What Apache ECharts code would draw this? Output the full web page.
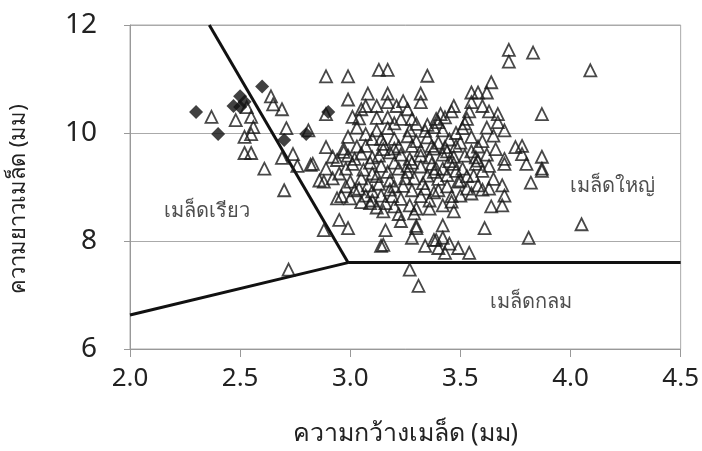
<!DOCTYPE html>
<html>
<head>
<meta charset="utf-8">
<script src="https://cdn.jsdelivr.net/npm/echarts@6/dist/echarts.min.js"></script>
<style>
  html, body { margin: 0; padding: 0; background: #fff; }
  #chart { width: 702px; height: 451px; }
</style>
</head>
<body>
<div id="chart"></div>
<script>
// ค่าความกว้าง/ความยาวเมล็ด (มม) อ่านจากภาพ
const slenderSeeds = [
  [2.30, 10.39], [2.40, 9.98], [2.50, 10.68], [2.47, 10.50], [2.50, 10.48],
  [2.52, 10.58], [2.60, 10.86], [2.70, 9.87], [2.80, 9.98], [2.90, 10.39]
]

const otherSeeds = [
  // ด้านซ้าย
  [2.37, 10.30], [2.48, 10.24], [2.55, 10.30], [2.56, 10.11], [2.52, 9.93], [2.55, 9.98],
  [2.52, 9.63], [2.55, 9.63], [2.53, 10.48], [2.64, 10.68], [2.65, 10.53], [2.69, 10.44],
  [2.71, 10.09], [2.69, 9.54], [2.74, 9.61], [2.76, 9.39], [2.82, 9.41], [2.61, 9.34],
  [2.70, 8.94], [2.86, 9.12], [2.81, 10.05], [2.72, 7.47], [2.88, 8.20], [2.95, 8.39],
  [2.99, 8.24], [2.83, 9.43], [2.89, 9.74], [2.97, 9.65],
  // ด้านบน
  [2.89, 11.05], [2.99, 11.05], [3.13, 11.17], [3.17, 11.17], [3.35, 11.06], [3.08, 10.73],
  [3.17, 10.73], [3.32, 10.73], [2.99, 10.62], [2.89, 10.35], [3.05, 10.44], [3.04, 10.27],
  [3.12, 10.50], [3.17, 10.57], [3.21, 10.50], [3.24, 10.59], [3.26, 10.44], [3.32, 10.57],
  [3.17, 10.29], [3.23, 10.26], [3.28, 10.26], [3.30, 10.17], [3.39, 10.26], [3.17, 10.09],
  [3.34, 10.04], [2.99, 9.93], [3.07, 9.98], [2.97, 9.71], [3.07, 9.76], [3.10, 9.89],
  [3.14, 9.89], [3.20, 9.89], [3.26, 9.94], [3.20, 9.71], [3.28, 9.76], [3.37, 9.76],
  [2.92, 9.56], [3.02, 9.52], [3.13, 9.58], [3.32, 9.58],
  [3.72, 11.54], [3.72, 11.32], [3.83, 11.49], [3.64, 10.94], [3.55, 10.75], [3.58, 10.75],
  [3.62, 10.75], [3.55, 10.57], [3.60, 10.50], [3.47, 10.50], [3.41, 10.35], [3.46, 10.40],
  [3.54, 10.40], [3.63, 10.40], [3.67, 10.35], [3.67, 10.20], [3.53, 10.26], [3.40, 10.20],
  [3.43, 10.29], [3.51, 10.09], [3.38, 10.11], [3.55, 9.93], [3.87, 10.35], [3.43, 9.74],
  [3.48, 9.76], [3.75, 9.74], [3.78, 9.76], [3.78, 9.61], [3.87, 9.56], [3.38, 9.71],
  [3.47, 9.56], [3.58, 9.49], [3.70, 9.52],
  // ด้านขวา
  [4.09, 11.16], [4.05, 8.31], [3.87, 9.30], [3.82, 9.08], [3.81, 8.06], [3.70, 9.43],
  [3.69, 9.03], [3.70, 8.84], [3.80, 9.43], [3.87, 9.34], [3.69, 8.66], [3.64, 8.64],
  [3.63, 8.97], [3.61, 8.24], [3.63, 9.39], [3.57, 9.43],
  // ด้านล่าง
  [3.42, 8.66], [3.47, 8.55], [3.46, 8.73], [3.42, 8.29], [3.39, 8.02], [3.42, 8.06],
  [3.43, 7.78], [3.49, 7.87], [3.54, 7.78], [3.40, 7.87], [3.16, 8.20], [3.14, 7.91],
  [3.27, 7.47], [3.31, 7.17], [3.29, 8.51], [3.30, 8.24], [3.28, 8.06], [3.34, 7.91],
  [3.38, 8.02], [3.23, 8.37], [3.15, 7.93], [3.30, 8.28], [3.45, 7.95],
  // กลุ่มหนาแน่น
  [3.38, 9.28], [3.42, 9.34], [3.47, 9.43], [3.51, 9.34], [3.56, 9.21], [3.40, 8.94],
  [3.44, 9.01], [3.49, 9.10], [3.53, 8.97], [3.58, 9.03], [3.50, 8.84], [3.55, 8.88],
  [3.46, 8.83],
  [2.88, 9.10], [2.92, 9.16], [2.95, 9.25], [2.89, 9.34], [3.01, 9.43], [2.96, 8.83],
  [2.94, 8.79], [2.98, 9.01], [3.02, 8.94], [3.00, 8.79], [3.05, 9.16], [3.04, 8.97],
  [3.07, 8.84], [3.09, 8.70], [3.08, 9.03], [3.13, 9.06], [3.14, 8.84], [3.16, 8.70],
  [3.15, 8.55], [3.20, 8.64], [3.19, 8.83], [3.20, 9.01], [3.28, 8.94], [3.32, 8.83],
  [3.34, 8.97], [3.25, 9.16], [3.29, 9.16], [3.35, 9.21], [3.10, 9.25], [3.17, 9.28],
  [3.22, 9.34], [2.98, 9.34], [3.14, 9.39], [3.26, 9.39], [3.32, 9.38], [3.39, 9.34],
  [3.05, 9.62], [3.10, 9.55], [3.18, 9.64], [3.23, 9.60], [3.27, 9.52], [3.36, 9.55],
  [3.42, 9.60], [3.45, 9.48], [3.52, 9.58], [3.55, 9.66], [3.62, 9.60], [3.66, 9.70],
  [3.60, 9.30], [3.65, 9.15], [3.53, 9.20], [3.40, 9.15], [3.33, 9.07], [3.24, 9.02],
  [3.18, 9.12], [3.12, 9.20], [3.06, 9.32], [3.00, 9.10], [2.94, 9.50], [3.03, 9.75],
  [3.15, 9.80], [3.22, 9.75], [3.30, 9.85], [3.35, 9.92], [3.45, 9.88], [3.50, 9.82],
  [3.60, 9.85], [3.65, 9.95], [3.70, 10.05], [3.62, 10.10], [3.48, 10.00], [3.42, 10.05],
  [3.27, 10.05], [3.12, 10.05], [3.03, 10.10], [3.10, 8.92], [3.23, 8.78], [3.27, 8.66],
  [3.36, 8.75], [3.38, 8.90], [3.30, 8.60], [3.12, 8.62], [3.05, 8.72], [3.18, 8.95],
  [3.26, 9.28], [3.44, 9.22], [3.48, 9.30], [3.57, 9.55], [3.37, 9.43], [3.20, 9.45],
  [3.09, 9.45], [2.99, 9.58], [3.15, 9.70], [3.32, 9.68], [3.40, 9.82], [3.58, 9.75],
  [3.50, 9.12], [3.60, 8.95], [3.36, 8.60], [3.22, 8.50], [3.10, 8.75], [3.28, 9.45],
  [3.44, 9.66], [3.52, 10.18], [3.35, 10.15], [3.20, 10.18], [3.12, 10.28], [3.07, 10.50],
  [3.01, 10.30]
]

// เส้นแบ่งกลุ่ม
const boundarySlender = [[2.36, 12.0], [2.99, 7.6]]
const boundaryRound = [[2.0, 6.63], [2.99, 7.6]]
const boundaryLarge = [[2.99, 7.6], [4.5, 7.6]]

const regionLabels = [
  { name: 'เมล็ดเรียว', value: [2.35, 8.55] },
  { name: 'เมล็ดใหญ่', value: [4.19, 9.01] },
  { name: 'เมล็ดกลม', value: [3.82, 6.86] }
]

const xTicks = { min: 2.0, max: 4.5, interval: 0.5 }
const yTicks = { min: 6, max: 12, interval: 2 }

const chart = echarts.init(document.getElementById('chart'))

const lineStyleBlack = { color: '#111', width: 3 }
const boundary = (data) => ({
  type: 'line',
  data: data,
  symbol: 'none',
  lineStyle: lineStyleBlack,
  silent: true,
  z: 3
})

const option = {
  animation: false,
  textStyle: { fontFamily: '"Noto Sans", "Open Sans", sans-serif' },
  grid: {
    left: 125,
    right: 19,
    top: 25,
    bottom: 98,
    show: true,
    borderColor: '#aaa',
    borderWidth: 1
  },
  xAxis: {
    type: 'value',
    min: xTicks.min,
    max: xTicks.max,
    interval: xTicks.interval,
    name: 'ความกว้างเมล็ด (มม)',
    nameLocation: 'middle',
    nameGap: 72,
    nameTextStyle: { fontSize: 25, color: '#222' },
    axisLine: { lineStyle: { color: '#999' } },
    axisTick: { show: true, length: 8, lineStyle: { color: '#999' } },
    axisLabel: {
      fontSize: 26,
      color: '#222',
      margin: 17,
      formatter: (v) => v.toFixed(1)
    },
    splitLine: { show: false }
  },
  yAxis: {
    type: 'value',
    min: yTicks.min,
    max: yTicks.max,
    interval: yTicks.interval,
    name: 'ความยาวเมล็ด (มม)',
    nameLocation: 'middle',
    nameGap: 100,
    nameTextStyle: { fontSize: 22, color: '#222', padding: [0, 24, 0, 0] },
    axisLine: { show: true, lineStyle: { color: '#999' } },
    axisTick: { show: true, length: 6, lineStyle: { color: '#999' } },
    axisLabel: { fontSize: 28, color: '#222', margin: 33 },
    splitLine: { lineStyle: { color: '#aaa', width: 1 } }
  },
  series: [
    boundary(boundarySlender),
    boundary(boundaryRound),
    boundary(boundaryLarge),
    {
      type: 'scatter',
      data: otherSeeds,
      symbol: 'triangle',
      symbolSize: 12,
      itemStyle: { color: 'rgba(255,255,255,0)', borderColor: '#1a1a1a', borderWidth: 1.8 },
      z: 4
    },
    {
      type: 'scatter',
      data: slenderSeeds,
      symbol: 'diamond',
      symbolSize: 14,
      itemStyle: { color: '#111' },
      z: 5
    },
    {
      type: 'scatter',
      data: regionLabels,
      symbolSize: 0,
      silent: true,
      label: {
        show: true,
        position: 'inside',
        formatter: '{b}',
        fontSize: 20,
        color: '#222'
      },
      z: 6
    }
  ]
}

chart.setOption(option)
</script>
</body>
</html>
